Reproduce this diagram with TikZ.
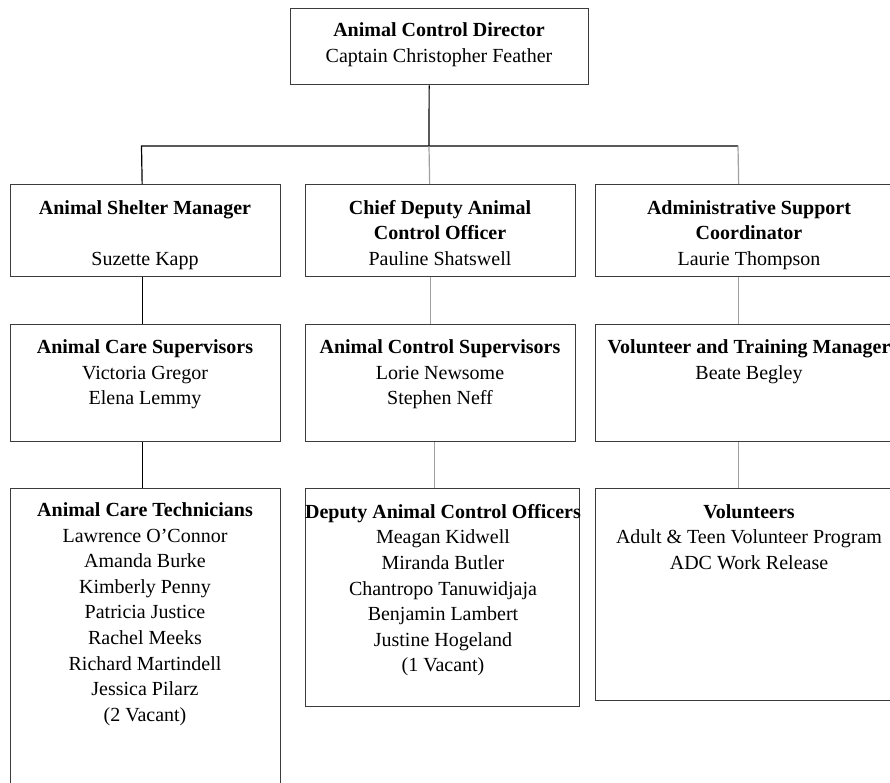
\documentclass[tikz,border=0pt]{standalone}
\usepackage{fontspec}
\setmainfont{Liberation Serif}
\definecolor{boxgray}{RGB}{60,60,60}
\definecolor{linegray}{RGB}{160,160,160}

\begin{document}
\begin{tikzpicture}[x=1pt,y=-1pt,
		box/.style={draw=boxgray,line width=1.3pt,inner sep=0pt,anchor=north west},
		txt/.style={anchor=north,inner sep=0pt,align=center,font=\fontsize{20}{25.6}\selectfont},
		conn/.style={draw=black,line width=1.2pt},
		gconn/.style={draw=linegray,line width=1.2pt}]
		\useasboundingbox (0,0) rectangle (890,782);
		\clip (0,0) rectangle (890,782);
		\coordinate (bar) at (429,146);
		\coordinate (bar_l) at (141.5,146);
		\coordinate (bar_r) at (738,146);

		\node[box,minimum width=298pt,minimum height=76pt] (dir) at (290,8) {};
		\node[box,minimum width=270pt,minimum height=92pt] (shelter) at (10,184) {};
		\node[box,minimum width=270pt,minimum height=92pt] (chief) at (305,184) {};
		\node[box,minimum width=308pt,minimum height=92pt] (admin) at (595,184) {};
		\node[box,minimum width=270pt,minimum height=117pt] (care_sup) at (10,324) {};
		\node[box,minimum width=270pt,minimum height=117pt] (ctrl_sup) at (305,324) {};
		\node[box,minimum width=308pt,minimum height=117pt] (vol_mgr) at (595,324) {};
		\node[box,minimum width=270pt,minimum height=330pt] (tech) at (10,488) {};
		\node[box,minimum width=274pt,minimum height=218pt] (daco) at (305,488) {};
		\node[box,minimum width=308pt,minimum height=212pt] (vol) at (595,488) {};

		\node[txt] (dir_t) at (439,22.5) {\textbf{Animal Control Director}\\Captain Christopher Feather};
		\node[txt] (shelter_t) at (145,200) {\textbf{Animal Shelter Manager}\\~\\Suzette Kapp};
		\node[txt] (chief_t) at (440,200) {\textbf{Chief Deputy Animal}\\\textbf{Control Officer}\\Pauline Shatswell};
		\node[txt] (admin_t) at (749,200) {\textbf{Administrative Support}\\\textbf{Coordinator}\\Laurie Thompson};
		\node[txt] (care_sup_t) at (145,339.5) {\textbf{Animal Care Supervisors}\\Victoria Gregor\\Elena Lemmy};
		\node[txt] (ctrl_sup_t) at (440,339.5) {\textbf{Animal Control Supervisors}\\Lorie Newsome\\Stephen Neff};
		\node[txt] (vol_mgr_t) at (749,339.5) {\textbf{Volunteer and Training Manager}\\Beate Begley};
		\node[txt] (tech_t) at (145,502.5) {\textbf{Animal Care Technicians}\\Lawrence O’Connor\\Amanda Burke\\Kimberly Penny\\Patricia Justice\\Rachel Meeks\\Richard Martindell\\Jessica Pilarz\\(2 Vacant)};
		\node[txt] (daco_t) at (443,504) {\textbf{Deputy Animal Control Officers}\\Meagan Kidwell\\Miranda Butler\\Chantropo Tanuwidjaja\\Benjamin Lambert\\Justine Hogeland\\(1 Vacant)};
		\node[txt] (vol_t) at (749,504) {\textbf{Volunteers}\\Adult \& Teen Volunteer Program\\ADC Work Release};

		\draw[conn] ([xshift=-10.5pt]dir.south) -- (bar);
		\draw[conn] ([xshift=-3.5pt]shelter.north) -- (bar_l) -- (bar_r);
		\draw[gconn] (bar) -- ([xshift=-11pt]chief.north);
		\draw[gconn] (bar_r) -- ([xshift=-11pt]admin.north);
		\draw[conn] ([xshift=-3.5pt]shelter.south) -- ([xshift=-3.5pt]care_sup.north);
		\draw[gconn] ([xshift=-10pt]chief.south) -- ([xshift=-10pt]ctrl_sup.north);
		\draw[gconn] ([xshift=-11pt]admin.south) -- ([xshift=-11pt]vol_mgr.north);
		\draw[conn] ([xshift=-3.5pt]care_sup.south) -- ([xshift=-3.5pt]tech.north);
		\draw[gconn] ([xshift=-6pt]ctrl_sup.south) -- ([xshift=-8pt]daco.north);
		\draw[gconn] ([xshift=-11pt]vol_mgr.south) -- ([xshift=-11pt]vol.north);
	\end{tikzpicture}
\end{document}
